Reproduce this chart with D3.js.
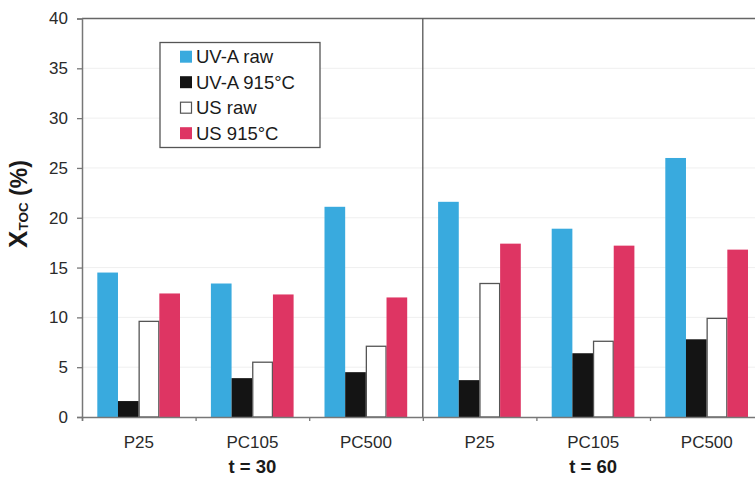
<!DOCTYPE html>
<html>
<head>
<meta charset="utf-8">
<script src="https://cdn.jsdelivr.net/npm/d3@7"></script>
<style>
  html, body { margin: 0; padding: 0; background: #fff; }
  svg { display: block; font-family: "Liberation Sans", Arial, sans-serif; }
</style>
</head>
<body>
<svg id="chart" width="755" height="478"></svg>
<script>
// Catalysts tested at each irradiation time
const catalysts = ["P25", "PC105", "PC500", "P25", "PC105", "PC500"];
const timeLabels = ["t = 30", "t = 60"];
const seriesNames = ["UV-A raw", "UV-A 915°C", "US raw", "US 915°C"];
const uvaRaw  = [14.5, 13.4, 21.1, 21.6, 18.9, 26.0];
const uva915  = [1.6, 3.9, 4.5, 3.7, 6.4, 7.8];
const usRaw   = [9.6, 5.5, 7.1, 13.4, 7.6, 9.9];
const us915   = [12.4, 12.3, 12.0, 17.4, 17.2, 16.8];
const yTicks  = [0, 5, 10, 15, 20, 25, 30, 35, 40];

const series = [uvaRaw, uva915, usRaw, us915];
const fills   = ["#39aade", "#141414", "#ffffff", "#de3563"];
const strokes = ["none", "none", "#555", "none"];

const svg = d3.select("#chart");
const plotLeft = 82, plotTop = 18.5, plotBottom = 417;
const groupW = 113.6;
const plotRight = plotLeft + groupW * catalysts.length;

const y = d3.scaleLinear().domain([0, 40]).range([plotBottom, plotTop]);
const x0 = d3.scaleBand().domain(d3.range(catalysts.length)).range([plotLeft, plotRight]).padding(0);
const x1 = d3.scaleBand().domain(d3.range(series.length)).range([15.3, 98]).padding(0);

// faint horizontal gridlines
svg.append("g").selectAll("line")
  .data(yTicks.filter(t => t > 0 && t < 40))
  .join("line")
  .attr("x1", plotLeft).attr("x2", plotRight)
  .attr("y1", d => y(d)).attr("y2", d => y(d))
  .attr("stroke", "#efefef").attr("stroke-width", 1);

// bars
const groups = svg.append("g").selectAll("g")
  .data(catalysts.map((c, i) => i))
  .join("g")
  .attr("transform", i => `translate(${x0(i)},0)`);

groups.selectAll("rect")
  .data(i => series.map((s, k) => ({ k, v: s[i] })))
  .join("rect")
  .attr("x", d => x1(d.k) + (d.k === 2 ? 0.5 : 0))
  .attr("width", d => x1.bandwidth() - (d.k === 2 ? 1 : 0))
  .attr("y", d => y(d.v))
  .attr("height", d => y(0) - y(d.v))
  .attr("fill", d => fills[d.k])
  .attr("stroke", d => strokes[d.k])
  .attr("stroke-width", 1.3);

// top frame line and separator between the two time blocks
svg.append("line")
  .attr("x1", plotLeft).attr("x2", plotRight)
  .attr("y1", y(40)).attr("y2", y(40))
  .attr("stroke", "#666").attr("stroke-width", 1.5);
svg.append("line")
  .attr("x1", x0(3)).attr("x2", x0(3))
  .attr("y1", y(40)).attr("y2", y(0))
  .attr("stroke", "#555").attr("stroke-width", 1.3);

// y axis
const yAxis = svg.append("g")
  .attr("transform", `translate(${plotLeft},0)`)
  .call(d3.axisLeft(y).tickValues(yTicks).tickSize(5).tickPadding(9));
yAxis.select(".domain").attr("stroke", "#777").attr("stroke-width", 1.5);
yAxis.selectAll(".tick line").attr("stroke", "#777").attr("stroke-width", 1.3);
yAxis.selectAll(".tick text")
  .attr("font-size", 17).attr("fill", "#2a2a2a")
  .attr("font-family", "Liberation Sans, Arial, sans-serif");

// x axis with ticks at group boundaries
const xb = d3.scaleLinear().domain([0, catalysts.length]).range([plotLeft, plotRight]);
const xAxis = svg.append("g")
  .attr("transform", `translate(0,${plotBottom})`)
  .call(d3.axisBottom(xb).tickValues(d3.range(catalysts.length + 1)).tickSize(4).tickFormat(""));
xAxis.select(".domain").attr("stroke", "#777").attr("stroke-width", 1.5);
xAxis.selectAll(".tick line").attr("stroke", "#777").attr("stroke-width", 1.3);

// catalyst labels
svg.append("g").selectAll("text")
  .data(catalysts)
  .join("text")
  .attr("x", (d, i) => x0(i) + x0.bandwidth() / 2)
  .attr("y", 447.5)
  .attr("text-anchor", "middle")
  .attr("font-size", 17)
  .attr("fill", "#2a2a2a")
  .text(d => d);

// time labels
svg.append("g").selectAll("text")
  .data(timeLabels)
  .join("text")
  .attr("x", (d, i) => x0(i * 3 + 1) + x0.bandwidth() / 2)
  .attr("y", 472.5)
  .attr("text-anchor", "middle")
  .attr("font-size", 18.5)
  .attr("font-weight", "bold")
  .attr("fill", "#1a1a1a")
  .text(d => d);

// y axis title
const yt = svg.append("text")
  .attr("transform", "translate(27,204) rotate(-90)")
  .attr("text-anchor", "middle")
  .attr("font-weight", "bold")
  .attr("fill", "#1a1a1a");
yt.append("tspan").attr("font-size", 26).text("X");
yt.append("tspan").attr("font-size", 13.5).attr("dy", 1).text("TOC");
yt.append("tspan").attr("font-size", 23).attr("dy", -1).text(" (%)");

// legend
const lg = svg.append("g");
lg.append("rect")
  .attr("x", 160).attr("y", 42.5).attr("width", 160).attr("height", 105)
  .attr("fill", "#fff").attr("stroke", "#555").attr("stroke-width", 1.3);
const rows = lg.selectAll("g.row")
  .data(seriesNames)
  .join("g")
  .attr("class", "row")
  .attr("transform", (d, i) => `translate(0,${56.7 + i * 25.5})`);
rows.append("rect")
  .attr("x", (d, i) => i === 2 ? 180.5 : 180)
  .attr("y", (d, i) => i === 2 ? -5.5 : -6)
  .attr("width", (d, i) => i === 2 ? 11 : 12)
  .attr("height", (d, i) => i === 2 ? 11 : 12)
  .attr("fill", (d, i) => fills[i])
  .attr("stroke", (d, i) => strokes[i])
  .attr("stroke-width", 1.2);
rows.append("text")
  .attr("x", 196)
  .attr("y", 6.5)
  .attr("font-size", 18.5)
  .attr("fill", "#1a1a1a")
  .text(d => d);
</script>
</body>
</html>
